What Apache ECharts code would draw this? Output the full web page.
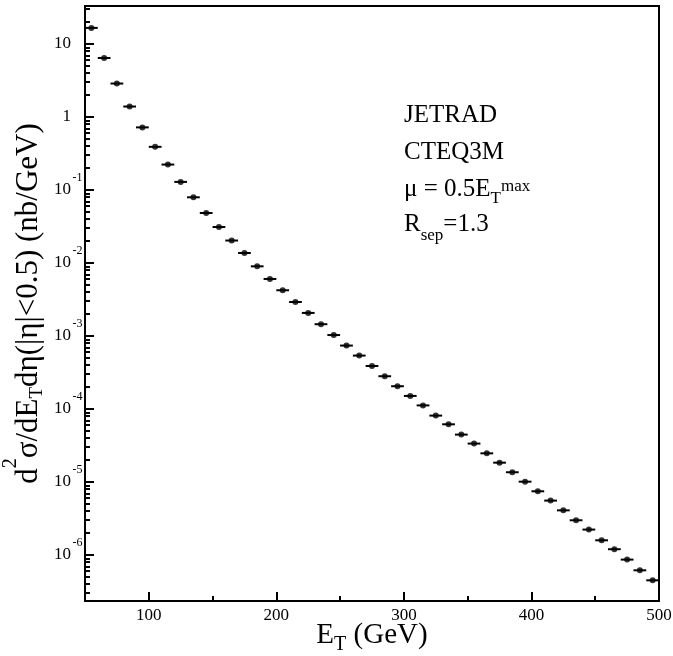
<!DOCTYPE html>
<html>
<head>
<meta charset="utf-8">
<script src="https://cdn.jsdelivr.net/npm/echarts@6/dist/echarts.min.js"></script>
<style>
html,body{margin:0;padding:0;background:#fff;}
#main{width:673px;height:656px;}
</style>
</head>
<body>
<div id="main"></div>
<script>
// E_T bin centres (GeV)
var etCenters = [55, 65, 75, 85, 95, 105, 115, 125, 135, 145,
                 155, 165, 175, 185, 195, 205, 215, 225, 235, 245,
                 255, 265, 275, 285, 295, 305, 315, 325, 335, 345,
                 355, 365, 375, 385, 395, 405, 415, 425, 435, 445,
                 455, 465, 475, 485, 495];
// d2sigma/dET deta (nb/GeV)
var xsec = [16.6, 6.43, 2.87, 1.39, 0.72, 0.39, 0.223, 0.129, 0.0794, 0.0484,
            0.0311, 0.0203, 0.0137, 0.0090, 0.00604, 0.00423, 0.00292, 0.00207, 0.00145, 0.00103,
            7.39e-4, 5.39e-4, 3.88e-4, 2.81e-4, 2.05e-4, 1.51e-4, 1.12e-4, 8.12e-5, 6.17e-5, 4.46e-5,
            3.36e-5, 2.47e-5, 1.84e-5, 1.36e-5, 1.01e-5, 7.46e-6, 5.56e-6, 4.09e-6, 2.99e-6, 2.23e-6,
            1.59e-6, 1.20e-6, 8.65e-7, 6.17e-7, 4.5e-7];
var binHalfWidth = 5;   // horizontal error bar = bin width / 2

// axis ticks
var xMajorTicks = [100, 200, 300, 400, 500];
var xMinorTicks = [150, 250, 350, 450];
var yDecades = [-6, -5, -4, -3, -2, -1, 0, 1];   // powers of ten
var yMin = -6.63, yMax = 1.52;                    // log10 range of the frame

// text box in the plot
var annotLines = ['{b|JETRAD}', '{b|CTEQ3M}', '{b|μ = 0.5E}{s|T}{p|max}', '{b|R}{r|sep}{b|=1.3}'];
var annotMid = [115, 152, 189, 224];

var FONT = 'Liberation Serif';

// minor ticks at 2..9 x 10^n
var yMinorTicks = [];
for (var n = -7; n <= 1; n++) {
	for (var k = 2; k <= 9; k++) {
		var v = n + Math.log10(k);
		if (v > yMin && v < yMax) yMinorTicks.push(v);
	}
}

var pointData = etCenters.map(function(x, i){ return [x, Math.log10(xsec[i])]; });
var barData = etCenters.map(function(x, i){ return [x - binHalfWidth, x + binHalfWidth, Math.log10(xsec[i])]; });

var myChart = echarts.init(document.getElementById('main'));

var option = {
	animation: false,
	backgroundColor: '#fff',
	grid: {
		left: 85, right: 14, top: 6, bottom: 55,
		show: true, borderColor: '#000', borderWidth: 2,
		containLabel: false, outerBoundsMode: 'none'
	},
	xAxis: [{
		type: 'value', min: 50, max: 500, position: 'bottom',
		axisLine: {show: true, onZero: false, lineStyle: {color: '#000', width: 2}},
		axisTick: {show: true, inside: true, length: 9, customValues: xMajorTicks, lineStyle: {color: '#000', width: 2}},
		axisLabel: {customValues: xMajorTicks, margin: 6, color: '#000', fontFamily: FONT, fontSize: 17},
		splitLine: {show: false},
		name: '{b|E}{s|T}{b| (GeV)}',
		nameLocation: 'middle', nameGap: 19, nameMoveOverlap: false,
		nameTextStyle: {
			color: '#000',
			rich: {
				b: {fontFamily: FONT, fontSize: 29, lineHeight: 30, verticalAlign: 'middle', color: '#000'},
				s: {fontFamily: FONT, fontSize: 20, height: 10, lineHeight: 10, verticalAlign: 'bottom', color: '#000'}
			}
		}
	}, {
		type: 'value', min: 50, max: 500, position: 'bottom',
		axisLine: {show: false, onZero: false},
		axisTick: {show: true, inside: true, length: 5, customValues: xMinorTicks, lineStyle: {color: '#000', width: 2}},
		axisLabel: {show: false},
		splitLine: {show: false}
	}],
	yAxis: [{
		type: 'value', min: yMin, max: yMax, position: 'left',
		axisLine: {show: true, onZero: false, lineStyle: {color: '#000', width: 2}},
		axisTick: {show: true, inside: true, length: 9, customValues: yDecades, lineStyle: {color: '#000', width: 2}},
		axisLabel: {
			customValues: yDecades, margin: 1, color: '#000',
			formatter: function(v){
				v = Math.round(v);
				if (v === 0) return '{b|1}{e| }';
				if (v === 1) return '{b|10}{e| }';
				return '{b|10}{e|' + v + '}';
			},
			rich: {
				b: {fontFamily: FONT, fontSize: 17, lineHeight: 36, verticalAlign: 'middle', color: '#000'},
				e: {fontFamily: FONT, fontSize: 12, height: 12, lineHeight: 12, verticalAlign: 'top', width: 13, align: 'left', color: '#000'}
			}
		},
		splitLine: {show: false},
		name: '{b|d}{p|2}{b|σ/dE}{s|T}{b|dη(|η|<0.5) (nb/GeV)}',
		nameLocation: 'middle', nameRotate: 90, nameGap: 31, nameMoveOverlap: false,
		nameTextStyle: {
			color: '#000',
			rich: {
				b: {fontFamily: FONT, fontSize: 31, lineHeight: 50, verticalAlign: 'middle', color: '#000'},
				p: {fontFamily: FONT, fontSize: 20, height: 14, lineHeight: 14, verticalAlign: 'top', color: '#000'},
				s: {fontFamily: FONT, fontSize: 19, height: 33, lineHeight: 33, verticalAlign: 'bottom', color: '#000'}
			}
		}
	}, {
		type: 'value', min: yMin, max: yMax, position: 'left',
		axisLine: {show: false, onZero: false},
		axisTick: {show: true, inside: true, length: 5, customValues: yMinorTicks, lineStyle: {color: '#000', width: 2}},
		axisLabel: {show: false},
		splitLine: {show: false}
	}],
	graphic: annotLines.map(function(t, i){
		return {
			type: 'text', x: 404, y: annotMid[i],
			style: {
				text: t, fill: '#000', align: 'left', verticalAlign: 'middle',
				rich: {
					b: {fontFamily: FONT, fontSize: 25, lineHeight: 40, verticalAlign: 'middle', fill: '#000'},
					s: {fontFamily: FONT, fontSize: 17, height: 20, lineHeight: 20, verticalAlign: 'bottom', fill: '#000'},
					r: {fontFamily: FONT, fontSize: 17, height: 17, lineHeight: 17, verticalAlign: 'bottom', fill: '#000'},
					p: {fontFamily: FONT, fontSize: 17, height: 36, lineHeight: 36, verticalAlign: 'top', fill: '#000'}
				}
			}
		};
	}),
	series: [{
		type: 'custom',
		xAxisIndex: 0, yAxisIndex: 0,
		data: barData,
		encode: {x: [0, 1], y: 2},
		renderItem: function(params, api){
			var p1 = api.coord([api.value(0), api.value(2)]);
			var p2 = api.coord([api.value(1), api.value(2)]);
			return {
				type: 'line',
				shape: {x1: p1[0], y1: p1[1], x2: p2[0], y2: p2[1]},
				style: {stroke: '#000', lineWidth: 2}
			};
		},
		silent: true
	}, {
		type: 'scatter',
		xAxisIndex: 0, yAxisIndex: 0,
		data: pointData,
		symbol: 'circle', symbolSize: 6,
		itemStyle: {color: '#000'},
		silent: true
	}]
};

myChart.setOption(option);
</script>
</body>
</html>
